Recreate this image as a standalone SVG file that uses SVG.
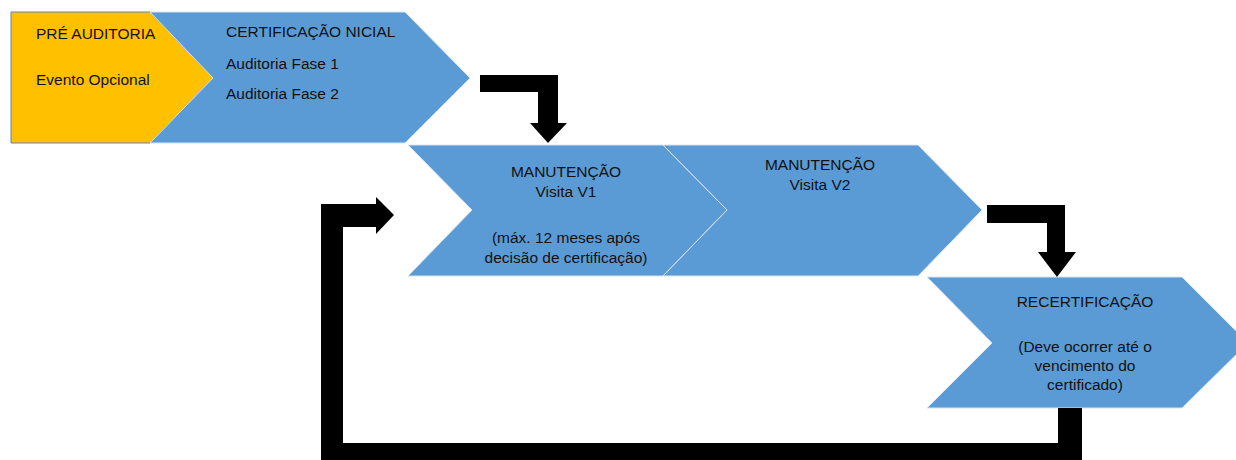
<svg xmlns="http://www.w3.org/2000/svg" width="1236" height="460" viewBox="0 0 1236 460">
<style>
.t{font-family:"Liberation Sans",Arial,sans-serif;font-size:15.5px;fill:#111}
.c{text-anchor:middle}
.blue{fill:#5B9BD5;stroke:#D6E4F2;stroke-width:1}
.yel{fill:#FFC000;stroke:#5B87B8;stroke-width:1}
.arr{fill:#000}
</style>
<rect width="1236" height="460" fill="#fff"/>
<g id="pre-auditoria">
<polygon class="yel" points="11,12 150,12 213,78 150,143 11,143"/>
<text class="t" x="36" y="39">PRÉ AUDITORIA</text>
<text class="t" x="36" y="85">Evento Opcional</text>
</g>
<g id="certificacao-inicial">
<polygon class="blue" points="150,12 405,12 470,78 405,143 150,143 213,78"/>
<text class="t" x="226" y="37">CERTIFICAÇÃO NICIAL</text>
<text class="t" x="226" y="69">Auditoria Fase 1</text>
<text class="t" x="226" y="99">Auditoria Fase 2</text>
</g>
<g id="manutencao-v1">
<polygon class="blue" points="408,145 663,145 727,210 663,276 408,276 472,210"/>
<text class="t c" x="566" y="177">MANUTENÇÃO</text>
<text class="t c" x="566" y="197">Visita V1</text>
<text class="t c" x="566" y="243">(máx. 12 meses após</text>
<text class="t c" x="566" y="263">decisão de certificação)</text>
</g>
<g id="manutencao-v2">
<polygon class="blue" points="663,145 918,145 982,210 918,276 663,276 727,210"/>
<text class="t c" x="820" y="170">MANUTENÇÃO</text>
<text class="t c" x="820" y="190">Visita V2</text>
</g>
<g id="recertificacao">
<polygon class="blue" points="927,277 1182,277 1248,343 1182,408 927,408 992,343"/>
<text class="t c" x="1085" y="307">RECERTIFICAÇÃO</text>
<text class="t c" x="1085" y="352">(Deve ocorrer até o</text>
<text class="t c" x="1085" y="371">vencimento do</text>
<text class="t c" x="1085" y="390">certificado)</text>
</g>
<g id="connectors">
<path class="arr" d="M480,75 H558 V123 H567 L548,143 L530,123 H538 V92 H480 Z"/>
<path class="arr" d="M987,205 H1065 V252 H1076 L1057,277 L1038,252 H1047 V223 H987 Z"/>
<path class="arr" d="M1082,408 V468 H321 V204 H376 V197 L394,215 L376,234 V227 H343 V443 H1058 V408 Z"/>
</g>
</svg>
